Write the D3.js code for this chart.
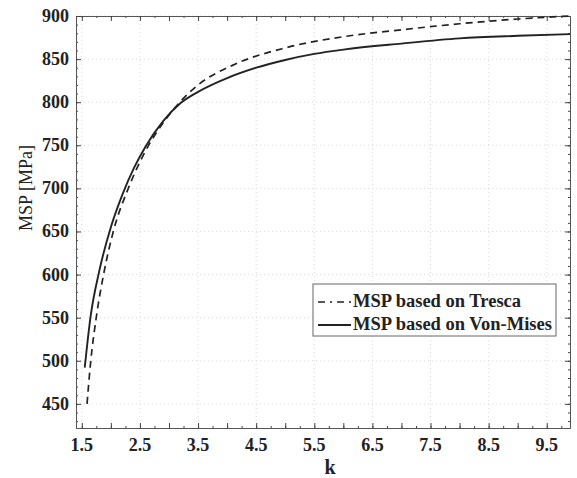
<!DOCTYPE html>
<html>
<head>
<meta charset="utf-8">
<script src="https://cdn.jsdelivr.net/npm/d3@7"></script>
<style>
  body { margin: 0; background: #fff; }
  text { font-family: "Liberation Serif", "Times New Roman", serif; }
</style>
</head>
<body>
<script>
// values
var vonK   = [1.55, 1.65, 1.8, 2.0, 2.2, 2.4, 2.6, 2.9, 3.2, 3.5, 4.0, 4.5, 5.0, 5.5, 6.0, 7.0, 8.0, 9.0, 9.9];
var vonMsp = [492, 551, 604, 655, 693, 724, 749, 778, 799, 812, 828, 840, 849, 856, 861, 868, 874, 877, 879];
var trescaK   = [1.59, 1.65, 1.75, 1.88, 2.05, 2.3, 2.65, 2.9, 3.2, 3.5, 4.1, 5.0, 6.0, 7.0, 8.0, 9.0, 9.9];
var trescaMsp = [450, 497, 551, 602, 652, 700, 750, 776, 801, 820, 843, 863, 876, 884, 891, 896.5, 900];
var xTicks = [1.5, 2.5, 3.5, 4.5, 5.5, 6.5, 7.5, 8.5, 9.5];
var yTicks = [450, 500, 550, 600, 650, 700, 750, 800, 850, 900];
var legendNames = ["MSP based on Tresca", "MSP based on Von-Mises"];

var width = 577, height = 478;
var pLeft = 76, pTop = 16, pRight = 570, pBottom = 428;

var svg = d3.select("body").append("svg")
    .attr("width", width).attr("height", height);

var x = d3.scaleLinear().domain([1.4, 9.9]).range([pLeft, pRight]);
var y = d3.scaleLinear().domain([422, 900]).range([pBottom, pTop]);

// faint dotted grid
var grid = svg.append("g").attr("stroke", "#cfcfcf").attr("stroke-dasharray", "1,3").attr("stroke-width", 0.8);
xTicks.forEach(function (t) {
    grid.append("line").attr("x1", x(t)).attr("x2", x(t)).attr("y1", pTop).attr("y2", pBottom);
});
yTicks.forEach(function (t) {
    grid.append("line").attr("x1", pLeft).attr("x2", pRight).attr("y1", y(t)).attr("y2", y(t));
});

// axes (ticks pointing inward) on all four sides
var minorX = d3.range(1.5, 9.9, 0.25);
var majorX = d3.range(1.5, 9.9, 0.5);
var minorY = d3.range(430, 901, 10);

function styleAxis(g) {
    g.select(".domain").attr("stroke", "#555");
    g.selectAll(".tick line").attr("stroke", "#444");
    g.selectAll("text").remove();
}

svg.append("g").attr("transform", "translate(0," + pBottom + ")")
    .call(d3.axisTop(x).tickValues(minorX).tickSize(2).tickSizeOuter(0)).call(styleAxis);
svg.append("g").attr("transform", "translate(0," + pBottom + ")")
    .call(d3.axisTop(x).tickValues(majorX).tickSize(5).tickSizeOuter(0)).call(styleAxis);
svg.append("g").attr("transform", "translate(0," + pTop + ")")
    .call(d3.axisBottom(x).tickValues(minorX).tickSize(2).tickSizeOuter(0)).call(styleAxis);
svg.append("g").attr("transform", "translate(0," + pTop + ")")
    .call(d3.axisBottom(x).tickValues(majorX).tickSize(5).tickSizeOuter(0)).call(styleAxis);
svg.append("g").attr("transform", "translate(" + pLeft + ",0)")
    .call(d3.axisRight(y).tickValues(minorY).tickSize(2).tickSizeOuter(0)).call(styleAxis);
svg.append("g").attr("transform", "translate(" + pLeft + ",0)")
    .call(d3.axisRight(y).tickValues(yTicks).tickSize(5).tickSizeOuter(0)).call(styleAxis);
svg.append("g").attr("transform", "translate(" + pRight + ",0)")
    .call(d3.axisLeft(y).tickValues(minorY).tickSize(2).tickSizeOuter(0)).call(styleAxis);
svg.append("g").attr("transform", "translate(" + pRight + ",0)")
    .call(d3.axisLeft(y).tickValues(yTicks).tickSize(5).tickSizeOuter(0)).call(styleAxis);

// tick labels
svg.append("g").selectAll("text").data(xTicks).enter().append("text")
    .attr("x", function (d) { return x(d); }).attr("y", 451)
    .attr("text-anchor", "middle").style("font-size", "18px").style("font-weight", "bold")
    .attr("fill", "#222").text(function (d) { return d.toFixed(1); });
svg.append("g").selectAll("text").data(yTicks).enter().append("text")
    .attr("x", 69).attr("y", function (d) { return y(d) + 6; })
    .attr("text-anchor", "end").style("font-size", "18px").style("font-weight", "bold")
    .attr("fill", "#222").text(function (d) { return d; });

svg.append("text").attr("x", 330).attr("y", 474).attr("text-anchor", "middle")
    .style("font-size", "20px").style("font-weight", "bold").attr("fill", "#222").text("k");
svg.append("text").attr("transform", "translate(32,188) rotate(-90)").attr("text-anchor", "middle")
    .style("font-size", "18px").attr("fill", "#222").text("MSP [MPa]");

// curves
var line = d3.line().curve(d3.curveMonotoneX)
    .x(function (d) { return x(d[0]); }).y(function (d) { return y(d[1]); });

svg.append("path").datum(d3.zip(trescaK, trescaMsp)).attr("d", line)
    .attr("fill", "none").attr("stroke", "#222").attr("stroke-width", 1.7).attr("stroke-dasharray", "7,5");
svg.append("path").datum(d3.zip(vonK, vonMsp)).attr("d", line)
    .attr("fill", "none").attr("stroke", "#222").attr("stroke-width", 1.9);

// legend
var lg = svg.append("g");
lg.append("rect").attr("x", 313).attr("y", 284).attr("width", 243).attr("height", 52)
    .attr("fill", "#fff").attr("stroke", "#666").attr("stroke-width", 1);
lg.append("line").attr("x1", 318).attr("x2", 351).attr("y1", 302).attr("y2", 302)
    .attr("stroke", "#222").attr("stroke-width", 1.6).attr("stroke-dasharray", "7,5,2,5");
lg.append("line").attr("x1", 318).attr("x2", 351).attr("y1", 325).attr("y2", 325)
    .attr("stroke", "#222").attr("stroke-width", 1.8);
lg.selectAll("text.name").data(legendNames).enter().append("text").attr("class", "name")
    .attr("x", 353).attr("y", function (d, i) { return 307 + i * 23; })
    .style("font-size", "18.5px").style("font-weight", "bold").attr("fill", "#222")
    .text(function (d) { return d; });
</script>
</body>
</html>
